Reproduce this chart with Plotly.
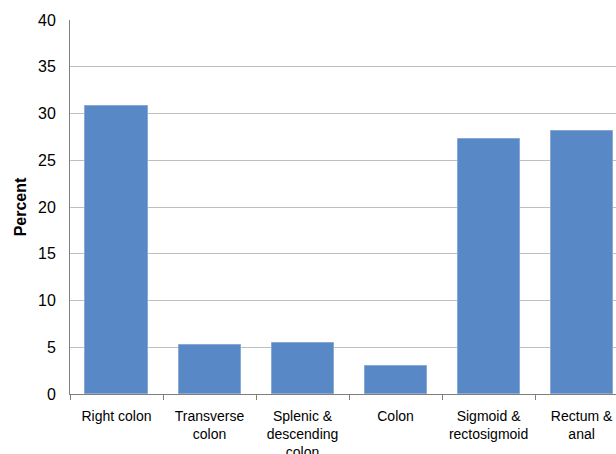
import plotly.graph_objects as go

categories = ["Right colon", "Transverse<br>colon", "Splenic &<br>descending<br>colon",
              "Colon", "Sigmoid &<br>rectosigmoid", "Rectum &<br>anal"]
percent = [30.8, 5.2, 5.5, 3.0, 27.3, 28.1]
y_ticks = [0, 5, 10, 15, 20, 25, 30, 35, 40]

fig = go.Figure(go.Bar(
    x=categories, y=percent,
    marker=dict(color="#5889C6", line=dict(color="#86A9D8", width=1)),
    width=0.667,
))

fig.update_layout(
    width=616, height=454,
    margin=dict(l=70, r=0, t=20, b=60),
    paper_bgcolor="white", plot_bgcolor="white",
    font=dict(family="Liberation Sans, Arial, sans-serif", size=14, color="#000000"),
    showlegend=False,
    bargap=0,
)
fig.update_xaxes(
    range=[-0.5, 5.37],
    showline=True, linecolor="#7F7F7F", linewidth=1,
    ticks="outside", tickson="boundaries", ticklen=5, tickcolor="#7F7F7F",
    ticklabelstandoff=9,
    tickfont=dict(size=14),
    showgrid=False,
    automargin=False,
)
fig.update_yaxes(
    range=[0, 40], tickvals=y_ticks,
    showline=True, linecolor="#7F7F7F", linewidth=1,
    showgrid=True, gridcolor="#BFBFBF", gridwidth=1,
    ticks="", ticklabelstandoff=10,
    tickfont=dict(size=16),
    title=dict(text="<b>Percent</b>", font=dict(size=16), standoff=7),
    zeroline=False,
    automargin=False,
)

fig.write_html("out.html", config={"displayModeBar": False},
               post_script="document.body.style.margin='0';document.body.style.overflow='hidden';")
